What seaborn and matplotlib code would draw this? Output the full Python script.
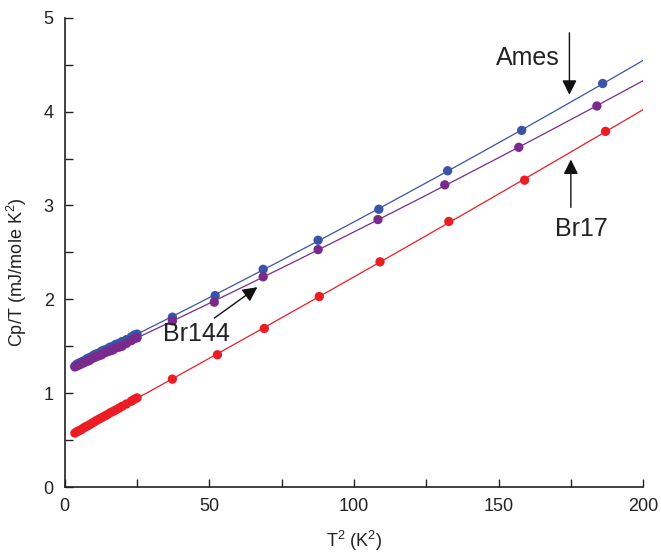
import numpy as np
import pandas as pd
import seaborn as sns
import matplotlib.pyplot as plt
from matplotlib.ticker import MultipleLocator

sns.set_style("ticks")
plt.rcParams['font.family'] = ['Liberation Sans', 'DejaVu Sans']
plt.rcParams['mathtext.fontset'] = 'custom'
plt.rcParams['mathtext.rm'] = 'Liberation Sans'
plt.rcParams['mathtext.it'] = 'Liberation Sans'

# ---- data (T^2 in K^2, Cp/T in mJ/mole K^2) ----
low_t2 = [3.5, 4.2, 4.9, 5.6, 6.3, 7.0, 7.8, 8.6, 9.4, 10.2, 11.0, 11.9,
          12.8, 13.7, 14.6, 15.6, 16.6, 17.6, 18.7, 19.8, 21.3, 23.0, 24.0, 25.0]
high_t2_ames = [37.2, 52.0, 68.6, 87.6, 108.6, 132.4, 158.0, 186.0]
high_t2_br144 = [37.2, 51.7, 68.6, 87.6, 108.3, 131.4, 157.0, 184.0]
high_t2_br17 = [37.2, 52.8, 69.0, 88.0, 109.0, 132.8, 159.0, 187.0]

ames_low = [1.29, 1.31, 1.32, 1.33, 1.34, 1.35, 1.37, 1.38, 1.39, 1.41, 1.42, 1.43,
            1.45, 1.46, 1.47, 1.49, 1.50, 1.52, 1.53, 1.55, 1.57, 1.60, 1.62, 1.63]
br144_low = [1.28, 1.29, 1.30, 1.31, 1.32, 1.33, 1.34, 1.35, 1.37, 1.38, 1.39, 1.40,
             1.41, 1.43, 1.44, 1.45, 1.46, 1.48, 1.49, 1.50, 1.53, 1.56, 1.58, 1.59]
br17_low = [0.575, 0.59, 0.60, 0.61, 0.625, 0.64, 0.65, 0.665, 0.68, 0.695, 0.71, 0.725,
            0.74, 0.755, 0.77, 0.79, 0.805, 0.82, 0.84, 0.86, 0.885, 0.915, 0.935, 0.95]
ames_high = [1.81, 2.04, 2.32, 2.63, 2.96, 3.37, 3.80, 4.30]
br144_high = [1.77, 1.97, 2.24, 2.53, 2.85, 3.22, 3.62, 4.06]
br17_high = [1.15, 1.41, 1.69, 2.03, 2.40, 2.83, 3.27, 3.79]

colors = {"Ames": "#3b54a5", "Br144": "#7a2a8c", "Br17": "#ec1c24"}

rows = []
for name, xs, ys in [("Ames", low_t2 + high_t2_ames, ames_low + ames_high),
                     ("Br144", low_t2 + high_t2_br144, br144_low + br144_high),
                     ("Br17", low_t2 + high_t2_br17, br17_low + br17_high)]:
    for x, y in zip(xs, ys):
        rows.append({"sample": name, "T2": x, "CpT": y})
df = pd.DataFrame(rows)

fig = plt.figure(figsize=(6.61, 5.56), dpi=100)
ax = fig.add_axes([0.098, 0.124, 0.875, 0.844])

# fitted curves (quadratic in T^2) drawn out to 200 K^2
for name, sub in df.groupby("sample"):
    coef = np.polyfit(sub["T2"], sub["CpT"], 2)
    xf = np.linspace(sub["T2"].min(), 200, 200)
    sns.lineplot(x=xf, y=np.polyval(coef, xf), color=colors[name], lw=0.9, ax=ax)

sns.scatterplot(data=df, x="T2", y="CpT", hue="sample", palette=colors,
                s=45, edgecolor="none", legend=False, ax=ax, zorder=3)

ax.set_xlim(0, 200)
ax.set_ylim(0, 5)
ax.xaxis.set_major_locator(MultipleLocator(50))
ax.xaxis.set_minor_locator(MultipleLocator(25))
ax.yaxis.set_major_locator(MultipleLocator(1))
ax.yaxis.set_minor_locator(MultipleLocator(0.5))
ax.tick_params(which="both", direction="in", length=6, width=1, labelsize=13,
               colors="#222222", pad=8)
sns.despine(ax=ax)
for s in ["left", "bottom"]:
    ax.spines[s].set_linewidth(1.2)
    ax.spines[s].set_color("#222222")

ax.set_xlabel("T$^2$ (K$^2$)", fontsize=13, color="#222222", labelpad=10)
ax.set_ylabel("Cp/T (mJ/mole K$^2$)", fontsize=13, color="#222222")
ax.yaxis.set_label_coords(-0.062, 0.458)

arrow = dict(arrowstyle="-|>", mutation_scale=22, lw=1.0, color="#111111",
             shrinkA=0, shrinkB=0)
ax.annotate("", xy=(174.5, 4.18), xytext=(174.5, 4.84), arrowprops=arrow)
ax.text(160, 4.57, "Ames", fontsize=18, ha="center", va="center", color="#222222")
ax.annotate("", xy=(175, 3.49), xytext=(175, 2.98), arrowprops=arrow)
ax.text(178.6, 2.75, "Br17", fontsize=18, ha="center", va="center", color="#222222")
ax.annotate("", xy=(66.6, 2.13), xytext=(51.7, 1.80), arrowprops=arrow)
ax.text(45.5, 1.63, "Br144", fontsize=18, ha="center", va="center", color="#222222")

fig.savefig("out.png", dpi=100)
